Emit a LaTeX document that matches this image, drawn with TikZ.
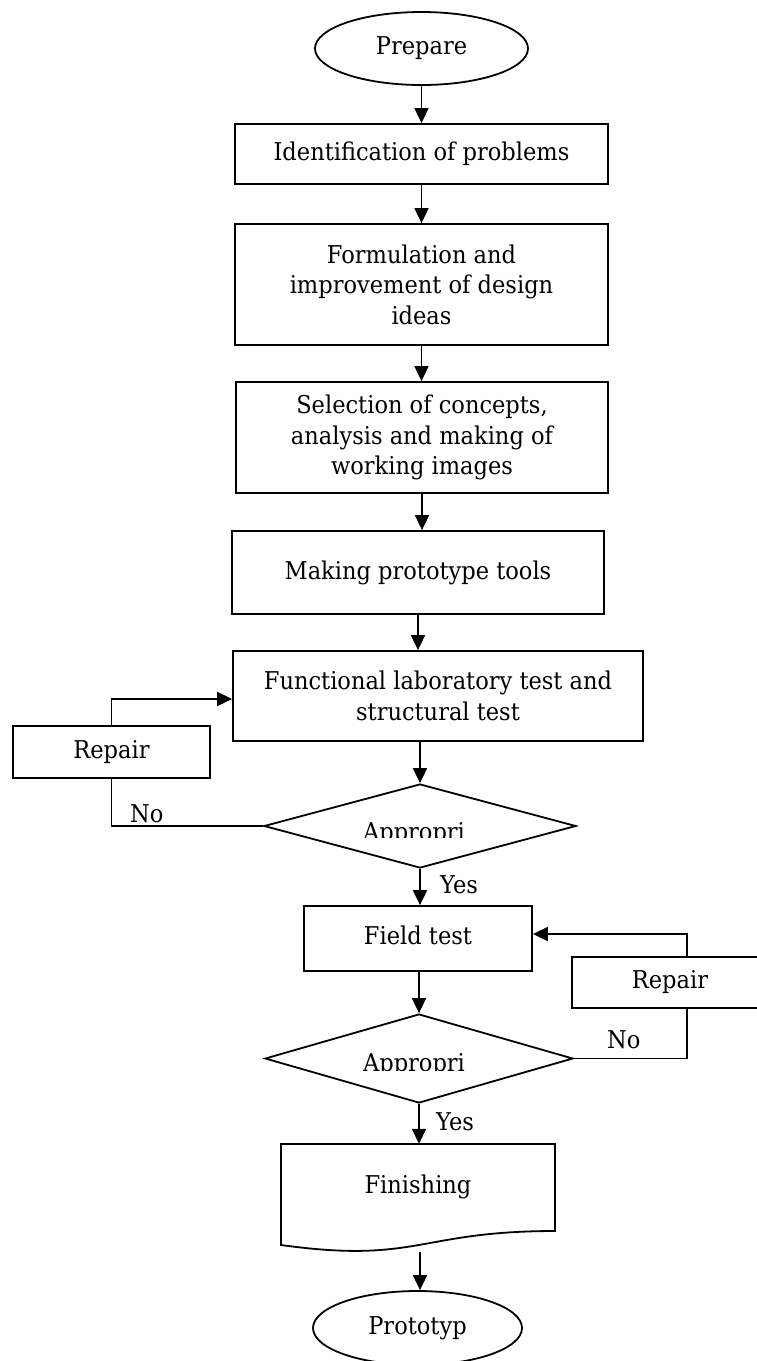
\documentclass[tikz,border=0pt]{standalone}
\usepackage{fontspec}
\setmainfont{DejaVu Serif}[FakeStretch=0.92]
\usetikzlibrary{shapes.geometric,arrows.meta}
\begin{document}
\begin{tikzpicture}[x=1pt,y=-1pt,
  every node/.style={font=\fontsize{24.5}{30.5}\selectfont, inner sep=0pt},
  stepbox/.style={draw, line width=1.8pt, rectangle, align=center},
  oval/.style={draw, line width=1.8pt, ellipse},
  decision/.style={draw, line width=1.8pt, diamond},
  arr/.style={line width=1.8pt, -{Triangle[length=15pt,width=14pt]}},
  conn/.style={line width=1.8pt},
  lbl/.style={anchor=base west}
]
\useasboundingbox (0,0) rectangle (757,1361);
\clip (0,0) rectangle (757,1361);

\node[oval, minimum width=213pt, minimum height=73pt] (prep) at (421.5,48.5) {Prepare};
\node[stepbox, minimum width=373pt, minimum height=60pt] (ident) at (421.5,154) {Identification of problems};
\node[stepbox, minimum width=373pt, minimum height=121pt] (form) at (421.5,284.5) {Formulation and\\improvement of design\\ideas};
\node[stepbox, minimum width=372pt, minimum height=111pt] (sel) at (422,437.5) {Selection of concepts,\\analysis and making of\\working images};
\node[stepbox, minimum width=372pt, minimum height=83pt] (make) at (418,572.5) {Making prototype tools};
\node[stepbox, minimum width=410pt, minimum height=90pt] (func) at (438,696) {Functional laboratory test and\\structural test};
\node[stepbox, minimum width=197pt, minimum height=52pt] (repL) at (111.5,752) {Repair};
\node[decision, minimum width=312pt, minimum height=84pt] (dia1) at (420,826) {};
\node[stepbox, minimum width=228pt, minimum height=65pt] (field) at (418,938.5) {\raisebox{7pt}{Field test}};
\node[stepbox, minimum width=196pt, minimum height=51pt] (repR) at (670,982.5) {Repair};
\node[decision, minimum width=308pt, minimum height=89pt] (dia2) at (419,1058.5) {};
\node[minimum width=274pt, minimum height=86pt] (fin) at (418,1187) {Finishing};
\draw[line width=1.8pt] (281,1144) -- (555,1144) -- (555,1231)
   .. controls (418,1231) and (418,1264) .. (281,1245) -- cycle;
\coordinate (finb) at (420,1252);
\node[oval, minimum width=209pt, minimum height=74pt] (proto) at (417.5,1328) {Prototyp};

\begin{scope}
\clip (300,812) rectangle (540,837);
\node[anchor=base] (t1) at (414,840) {Appropri};
\end{scope}
\begin{scope}
\clip (300,1045) rectangle (540,1070);
\node[anchor=base] (t2) at (414,1071) {Appropri};
\end{scope}

\node[lbl] (yes1) at (440,893) {Yes};
\node[lbl] (no1) at (130,822) {No};
\node[lbl] (yes2) at (436,1130) {Yes};
\node[lbl] (no2) at (607,1048) {No};

\draw[arr] (prep.south) -- (prep.south |- ident.north);
\draw[arr] (ident.south) -- (ident.south |- form.north);
\draw[arr] (form.south) -- (form.south |- sel.north);
\draw[arr] (sel.south) -- (sel.south |- make.north);
\draw[arr] (make.south) -- (make.south |- func.north);
\draw[arr] (dia1.north |- func.south) -- (dia1.north);
\draw[arr] (repL.north) |- ([yshift=-3pt]func.west);
\draw[conn] (dia1.west) -| (repL.south);
\draw[arr] (dia1.south) -- (dia1.south |- field.north);
\draw[arr] (dia2.north |- field.south) -- (dia2.north);
\draw[conn] (dia2.east) -| ([xshift=17pt]repR.south);
\draw[arr] ([xshift=17pt]repR.north) |- ([yshift=4.5pt]field.east);
\draw[arr] (dia2.south) -- (dia2.south |- fin.north);
\draw[arr] (finb) -- (finb |- proto.north);
\end{tikzpicture}
\end{document}
